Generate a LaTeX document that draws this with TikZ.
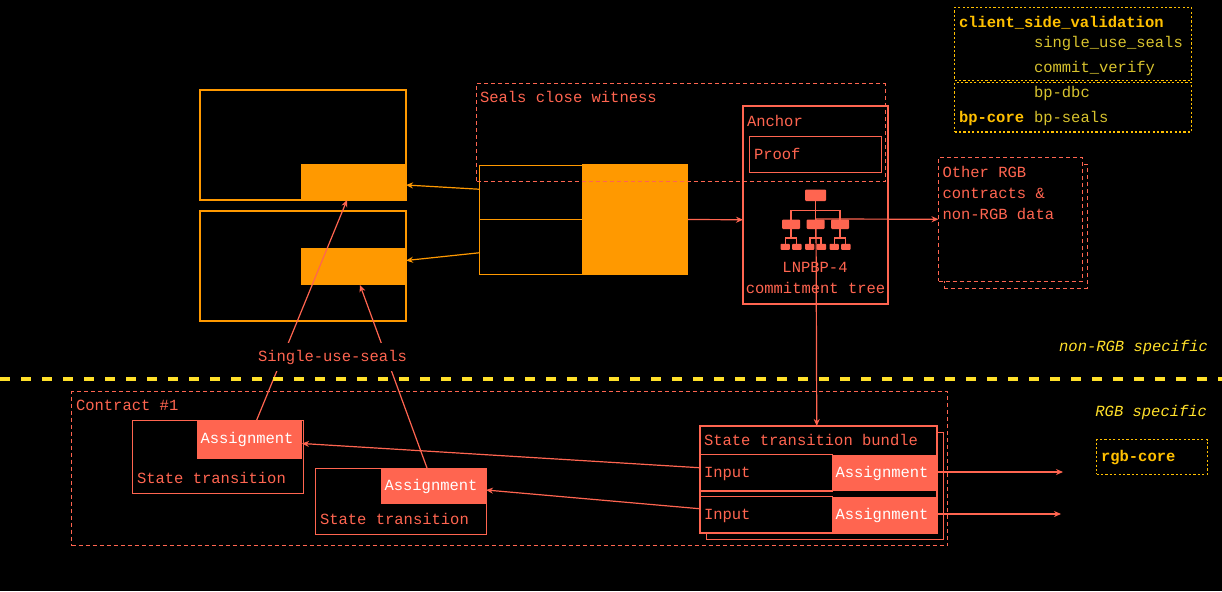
\documentclass[tikz,border=0pt]{standalone}
\usepackage{fontspec}
\setmonofont{Liberation Mono}
\usetikzlibrary{arrows.meta,shapes,positioning}

\definecolor{coral}{HTML}{FF6550}
\definecolor{amber}{HTML}{FF9900}
\definecolor{gold}{HTML}{FFC000}
\definecolor{olive}{HTML}{D8C32E}
\definecolor{lemon}{HTML}{FFE02A}

\tikzset{
  txt/.style={font=\ttfamily\fontsize{15.5}{21}\selectfont,inner sep=0,outer sep=0,anchor=west,text height=11,text depth=3,text=coral},
  box/.style={draw=coral,line width=1pt,fill=black,inner sep=0,outer sep=0,anchor=north west},
  dashbox/.style={draw=coral,line width=0.8pt,dash pattern=on 4pt off 3pt,inner sep=0,outer sep=0,anchor=north west},
  dotbox/.style={draw=gold,line width=1pt,dash pattern=on 2.2pt off 2.2pt,inner sep=0,outer sep=0,anchor=north west},
  ambox/.style={draw=amber,line width=1pt,inner sep=0,outer sep=0,anchor=north west},
  amfill/.style={fill=amber,inner sep=0,outer sep=0,anchor=north west},
  assign/.style={fill=coral,text=white,font=\ttfamily\fontsize{15.5}{21}\selectfont,inner xsep=3.5pt,inner ysep=0,outer sep=0,anchor=north west,text width=98pt,align=left,text height=11,text depth=3},
  arr/.style={draw=coral,line width=1.2pt,-{Stealth[length=7pt,width=6pt]}},
  amarr/.style={draw=amber,line width=1.2pt,-{Stealth[length=7pt,width=6pt]}}
}

\begin{document}
\begin{tikzpicture}[x=1pt,y=-1pt]

  % page
  \fill[black] (0,0) rectangle (1222,591);
  \useasboundingbox (0,0) rectangle (1222,591);

  % crate boxes top right
  \node[dotbox,minimum width=237,minimum height=73] (csv) at (954.5,7.5) {};
  \node[dotbox,line width=1.5pt,minimum width=237,minimum height=49.5] (bpcore) at (954.5,82.5) {};
  \node[txt,text=gold,font=\ttfamily\bfseries\fontsize{15.5}{21}\selectfont] (csvname) at (959,24) {client\_side\_validation};
  \node[txt,text=gold,font=\ttfamily\bfseries\fontsize{15.5}{21}\selectfont] (bpname) at (959,118.5) {bp-core};
  \node[txt,text=olive] (sus) at (1034,44) {single\_use\_seals};
  \node[txt,text=olive] (cv) at (1034,69) {commit\_verify};
  \node[txt,text=olive] (dbc) at (1034,94) {bp-dbc};
  \node[txt,text=olive] (seals) at (1034,118.5) {bp-seals};

  % rgb-core box and the two side captions
  \node[dotbox,minimum width=111,minimum height=34.5] (rgbcore) at (1096.5,439.5) {};
  \node[txt,text=gold,font=\ttfamily\bfseries\fontsize{15.5}{21}\selectfont] (rgbname) at (1101,457) {rgb-core};
  \node[txt,text=lemon,font=\ttfamily\itshape\fontsize{15.5}{21}\selectfont,anchor=east] (nonrgb) at (1208,347) {non-RGB specific};
  \node[txt,text=lemon,font=\ttfamily\itshape\fontsize{15.5}{21}\selectfont,anchor=east] (rgb) at (1207,412) {RGB specific};

  % bitcoin transactions on the left
  \node[ambox,line width=1.5pt,minimum width=206,minimum height=110] (tx1) at (200,90) {};
  \node[ambox,line width=1.5pt,minimum width=206,minimum height=110] (tx2) at (200,211) {};
  \node[amfill,minimum width=105,minimum height=36] (out1) at (301,164) {};
  \node[amfill,minimum width=105,minimum height=37] (out2) at (301,248) {};

  % witness transaction
  \node[ambox,minimum width=103,minimum height=53.5] (in1) at (479.5,165.5) {};
  \node[ambox,minimum width=103,minimum height=55.5] (in2) at (479.5,219) {};
  \node[amfill,minimum width=106,minimum height=111] (wout) at (582,164) {};

  % anchor with proof and commitment tree
  \node[box,line width=2pt,minimum width=145,minimum height=197.5] (anchorbox) at (743,106.5) {};
  \node[box,line width=1.3pt,minimum width=132,minimum height=36] (proof) at (749.5,136.5) {};
  \node[txt] (anchorname) at (747,122) {Anchor};
  \node[txt] (proofname) at (754,155) {Proof};
  \node[txt,anchor=center] (lnpbp) at (815,268) {LNPBP-4};
  \node[txt,anchor=center] (ctree) at (815.5,289) {commitment tree};

  % tree icon
  \coordinate (tree) at (816,219);
  \fill[coral,rounded corners=1pt] (805,189.5) rectangle (826,201);
  \draw[coral,line width=1.3pt] (815.5,201) -- (815.5,219.5) (791,219.5) |- (840,210.5) -- (840,219.5);
  \foreach \cx in {791,815.5,840} {
    \fill[coral,rounded corners=1pt] (\cx-9,219.5) rectangle (\cx+9,229);
    \draw[coral,line width=1.3pt] (\cx,229) -- (\cx,238) (\cx-5.5,244) |- (\cx+5.5,238) -- (\cx+5.5,244);
    \fill[coral,rounded corners=0.8pt] (\cx-10.5,243.8) rectangle (\cx-1.2,249.8);
    \fill[coral,rounded corners=0.8pt] (\cx+1.2,243.8) rectangle (\cx+10.5,249.8);
  }

  % other contracts
  \node[dashbox,minimum width=143,minimum height=124] (otherback) at (944,164) {};
  \node[dashbox,fill=black,minimum width=144,minimum height=123.5] (other) at (938.5,157.5) {};
  \node[txt] (othername1) at (942.5,173) {Other RGB};
  \node[txt] (othername2) at (942.5,194) {contracts \&};
  \node[txt] (othername3) at (942.5,215) {non-RGB data};

  % contract
  \node[dashbox,minimum width=876,minimum height=154] (contract) at (71.5,391.5) {};
  \node[txt] (contractname) at (76,406) {Contract \#1};
  \node[box,minimum width=170.5,minimum height=73] (st1) at (132.5,420.5) {};
  \node[box,minimum width=170.5,minimum height=66] (st2) at (315.5,468.5) {};
  \node[assign,minimum height=38] (assign1) at (197,420.5) {Assignment};
  \node[assign,minimum height=36] (assign2) at (381,468) {Assignment};
  \node[txt] (st1name) at (137,479) {State transition};
  \node[txt] (st2name) at (320,520) {State transition};

  % bundle
  \node[box,line width=1.5pt,minimum width=237,minimum height=107] (bundleback) at (706.5,432.5) {};
  \node[box,line width=2pt,minimum width=236.5,minimum height=107] (bundle) at (700,426) {};
  \node[txt] (bundlename) at (704,441) {State transition bundle};
  \node[box,line width=1.5pt,minimum width=132.5,minimum height=36.5] (input1) at (700,454.5) {};
  \node[box,line width=1.5pt,minimum width=132.5,minimum height=36.5] (input2) at (700,496.5) {};
  \node[txt] (input1name) at (704,473) {Input};
  \node[txt] (input2name) at (704,515) {Input};
  \node[assign,minimum height=36] (assign3) at (832,455) {Assignment};
  \node[assign,minimum height=36] (assign4) at (832,497) {Assignment};

  % connectors
  \coordinate (next1) at (1063,472);
  \coordinate (next2) at (1061,514);
  \draw[amarr] ([yshift=3]in1.west) -- ([yshift=-3]out1.east);
  \draw[amarr] ([yshift=-6]in2.west) -- ([yshift=6]out2.east);
  \draw[arr] (wout.east) -- ([yshift=-14.5]anchorbox.west);
  \draw[arr] (tree) -- (other.west);
  \draw[arr] (tree) -- ([xshift=-1.5]bundle.north);
  \draw[arr] ([yshift=5]input1.west) -- ([yshift=-4]assign1.east);
  \draw[arr] ([yshift=6]input2.west) -- ([yshift=-4]assign2.east);
  \draw[arr] ([yshift=1]assign3.east) -- (next1);
  \draw[arr] ([yshift=1]assign4.east) -- (next2);
  \draw[arr] ([xshift=7]assign1.north) -- ([xshift=-6.5]out1.south);
  \draw[arr] ([xshift=-6.5]assign2.north) -- ([xshift=6.5]out2.south);

  % witness outline goes over everything up there
  \node[dashbox,minimum width=408.5,minimum height=97.5] (witness) at (476.5,83.5) {};
  \node[txt] (witnessname) at (480,98.5) {Seals close witness};

  % seal label hides the two lines behind it
  \node[txt,anchor=center,fill=black,minimum height=28,minimum width=153] (sealname) at (332.5,357) {Single-use-seals};

  % divider
  \draw[lemon,line width=4pt,dash pattern=on 10pt off 11pt] (0,378.5) -- (1222,378.5);

\end{tikzpicture}
\end{document}
